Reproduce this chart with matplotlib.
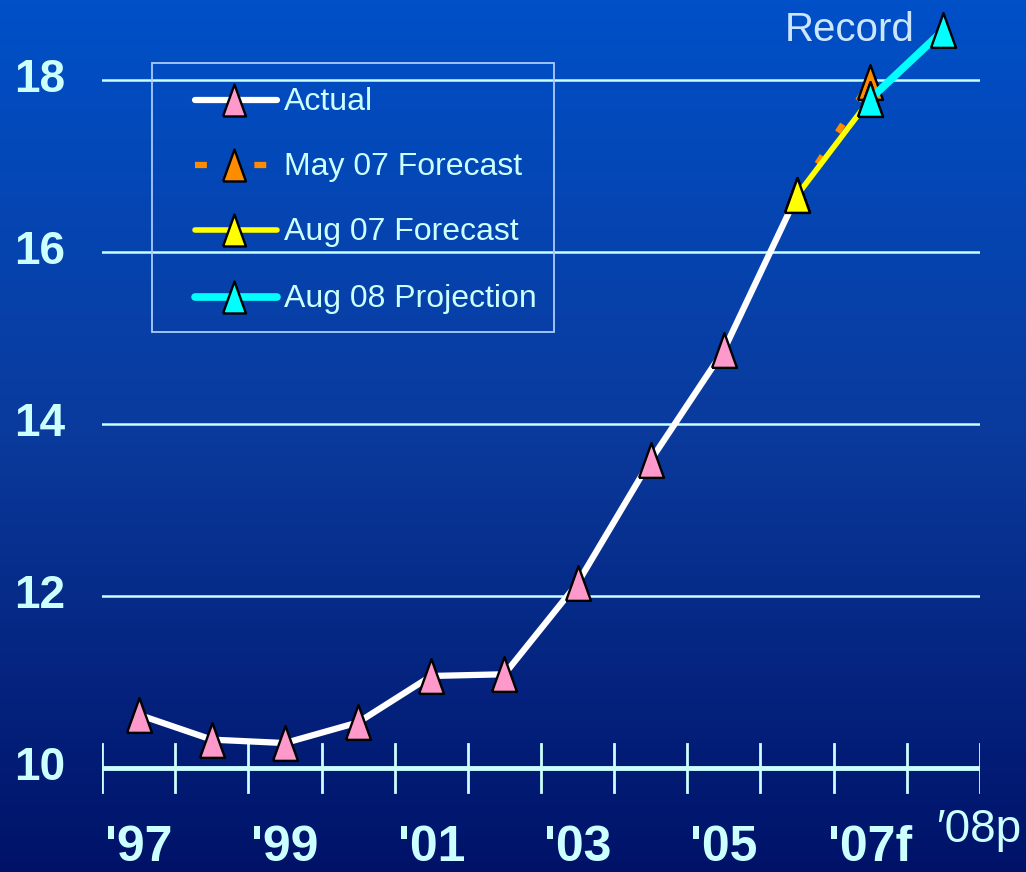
import matplotlib
matplotlib.use("Agg")
import matplotlib.pyplot as plt
import numpy as np
from matplotlib.lines import Line2D
from matplotlib.patches import Rectangle
from matplotlib.colors import LinearSegmentedColormap

years = ["'97", "'98", "'99", "'00", "'01", "'02", "'03", "'04", "'05", "'06", "'07f", "'08p"]
actual = [10.62, 10.33, 10.29, 10.53, 11.07, 11.09, 12.15, 13.58, 14.86, 16.66]
may07_years = ["'06", "'07f"]
may07 = [16.66, 17.98]
aug07_years = ["'06", "'07f"]
aug07 = [16.66, 17.78]
aug08_years = ["'07f", "'08p"]
aug08 = [17.78, 18.58]
xlabels = ["'97", "'99", "'01", "'03", "'05", "'07f"]
yticks = [10, 12, 14, 16, 18]
series_names = ["Actual", "May 07 Forecast", "Aug 07 Forecast", "Aug 08 Projection"]

LIGHT = "#ccffff"
plt.rcParams["font.family"] = ["Liberation Sans", "DejaVu Sans"]

W, H = 1026, 872
fig = plt.figure(figsize=(W / 100, H / 100), dpi=100)


def fx(px):
    return px / W


def fy(py):
    return 1 - py / H


# background gradient
bg = fig.add_axes([0, 0, 1, 1])
cmap = LinearSegmentedColormap.from_list("bg", ["#0050c8", "#0a3a9c", "#001268"])
grad = np.linspace(0, 1, 256).reshape(-1, 1)
bg.imshow(grad, aspect="auto", cmap=cmap, extent=[0, 1, 0, 1])
bg.set_axis_off()

ax = fig.add_axes([fx(102), 0, fx(980) - fx(102), 1])
ax.set_facecolor("none")
ax.set_xlim(0, 12)
ax.set_ylim(10 - 104 / 86, 10 + 768 / 86)
ax.set_axis_off()

pos = {y: i + 0.5 for i, y in enumerate(years)}

# grid lines
for v in yticks[1:]:
    ax.plot([0, 12], [v, v], color=LIGHT, lw=1.8, zorder=1)

# x axis with crossing ticks
ax.plot([0, 12], [10, 10], color=LIGHT, lw=3.5, zorder=1, solid_capstyle="butt")
for i in range(13):
    ax.plot([i, i], [10 - 0.28, 10 + 0.28], color=LIGHT, lw=2, zorder=1)

tri = [(-0.36, -0.5), (0.36, -0.5), (0.0, 0.5), (-0.36, -0.5)]
ms = 25
mk = dict(marker=tri, ms=ms, mec="black", mew=1.7)
styles = [
    dict(color="white", lw=4.5, mfc="#ff99cc"),
    dict(color="#ff8c00", lw=4.5, ls=(0, (1.5, 4.5)), mfc="#ff8c00"),
    dict(color="#ffff00", lw=4, mfc="#ffff00"),
    dict(color="#00ffff", lw=5.5, mfc="#00ffff"),
]

ax.plot([pos[y] for y in years[:len(actual)]], actual, zorder=3, **styles[0], **mk)
ax.plot([pos[y] for y in may07_years], may07, zorder=4, **styles[1], **mk)
ax.plot([pos[y] for y in aug07_years], aug07, zorder=5, **styles[2], **mk)
ax.plot([pos[y] for y in aug08_years], aug08, zorder=6, **styles[3], **mk)

fig.text(fx(915), fy(30), "Record", color="#cce6ff", fontsize=29,
         ha="right", va="center", zorder=7)

# tick labels
for v in yticks:
    ax.text(-0.85, v, str(v), color=LIGHT, fontsize=33, fontweight="bold",
            ha="center", va="center", clip_on=False)
for lab in xlabels:
    ax.text(pos[lab], 10 - 0.93, lab, color=LIGHT, fontsize=36, fontweight="bold",
            ha="center", va="center", clip_on=False)
fig.text(fx(979), fy(830), "\u203208p", color=LIGHT, fontsize=33,
         ha="center", va="center")

# legend drawn in pixel positions
fig.patches.append(Rectangle((fx(152), fy(332)), fx(554) - fx(152), fy(63) - fy(332),
                             transform=fig.transFigure, fill=False,
                             edgecolor="#aaccff", lw=1.3))
rows = [100, 165, 230, 297]
for name, st, ry in zip(series_names, styles, rows):
    st2 = dict(st)
    if "ls" in st2:
        st2["ls"] = (0, (1.9, 7.6))
    fig.add_artist(Line2D([fx(195), fx(277)], [fy(ry), fy(ry)], transform=fig.transFigure,
                          solid_capstyle="round", **st2))
    fig.add_artist(Line2D([fx(234)], [fy(ry)], transform=fig.transFigure,
                          marker=tri, ms=ms - 2, mec="black", mew=1.7, mfc=st["mfc"], ls="none"))
    fig.text(fx(284), fy(ry + 2), name, color=LIGHT, fontsize=23, ha="left", va="center")

fig.savefig("out.png", dpi=100)
